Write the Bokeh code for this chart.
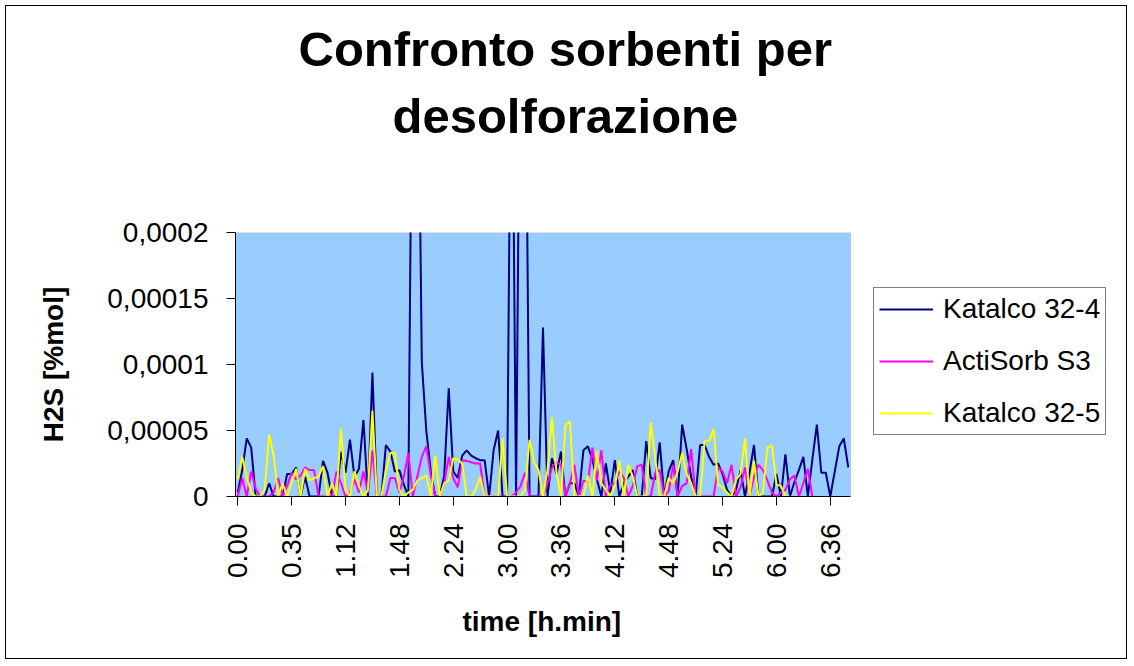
import math
from bokeh.plotting import figure
from bokeh.models import (Range1d, FixedTicker, Legend, LegendItem, Title,
                          ColumnDataSource, BoxAnnotation)
from bokeh.embed import file_html
from bokeh.resources import INLINE

# ---- data ----
series_names = ["Katalco 32-4", "ActiSorb S3", "Katalco 32-5"]

katalco_32_4 = [
    0.3e-5, 2.0e-5, 4.4e-5, 3.7e-5, 0, 0, 0, 1.0e-5, 0, 0,
    0, 1.7e-5, 1.7e-5, 2.2e-5, 0, 1.5e-5, 0, 0, 0, 2.7e-5,
    1.8e-5, 0, 0, 3.4e-5, 1.8e-5, 4.3e-5, 1.5e-5, 2.1e-5, 5.8e-5, 0,
    9.4e-5, 0, 0, 3.9e-5, 3.4e-5, 1.9e-5, 2.0e-5, 0.9e-5, 0, 40e-5,
    40e-5, 10.2e-5, 5.0e-5, 1.9e-5, 0, 0, 1.6e-5, 8.2e-5, 1.9e-5, 1.4e-5,
    3.1e-5, 3.5e-5, 3.1e-5, 2.9e-5, 2.75e-5, 2.75e-5, 0, 3.5e-5, 5.0e-5, 0,
    0, 40e-5, 0, 40e-5, 40e-5, 0, 0, 0, 12.8e-5, 0,
    2.9e-5, 1.7e-5, 3.4e-5, 0, 1.0e-5, 1.0e-5, 0, 3.5e-5, 3.8e-5, 2.8e-5,
    1.3e-5, 0, 2.5e-5, 0.3e-5, 2.75e-5, 0, 1.0e-5, 1.5e-5, 2.0e-5, 0,
    0, 4.2e-5, 1.4e-5, 1.3e-5, 4.1e-5, 0, 1.9e-5, 2.75e-5, 0, 5.45e-5,
    3.6e-5, 1.5e-5, 0, 3.9e-5, 3.9e-5, 3.0e-5, 2.4e-5, 2.5e-5, 1.7e-5, 0.5e-5,
    0, 0.5e-5, 2.0e-5, 0, 1.8e-5, 3.9e-5, 0, 0, 0, 0,
    1.7e-5, 0, 3.2e-5, 0, 1.1e-5, 2.0e-5, 3.0e-5, 0, 2.8e-5, 5.45e-5,
    1.8e-5, 1.8e-5, 0, 1.9e-5, 3.8e-5, 4.4e-5, 2.2e-5,
]

actisorb_s3 = [
    0, 1.4e-5, 0, 1.9e-5, 0.6e-5, 0, 0, 0, 0.3e-5, 1.4e-5,
    0, 0.8e-5, 1.8e-5, 1.3e-5, 1.6e-5, 2.2e-5, 2.0e-5, 2.0e-5, 0, 0,
    0, 0, 1.9e-5, 1.0e-5, 0, 0.3e-5, 1.3e-5, 0.3e-5, 1.9e-5, 0.3e-5,
    3.5e-5, 0, 0, 0, 1.4e-5, 1.4e-5, 0.3e-5, 1.5e-5, 3.3e-5, 0,
    1.5e-5, 3.0e-5, 3.8e-5, 1.6e-5, 0, 0, 1.0e-5, 3.0e-5, 1.4e-5, 0.7e-5,
    2.7e-5, 2.7e-5, 2.6e-5, 2.5e-5, 2.5e-5, 0, 0, 0, 0, 0,
    0, 0, 0.3e-5, 0.8e-5, 1.8e-5, 0, 0, 0, 0, 1.0e-5,
    2.2e-5, 2.6e-5, 2.4e-5, 0, 1.0e-5, 2.4e-5, 0, 1.2e-5, 1.1e-5, 3.7e-5,
    1.2e-5, 3.5e-5, 0, 0.9e-5, 1.0e-5, 1.9e-5, 1.4e-5, 0, 0.8e-5, 2.3e-5,
    2.4e-5, 0, 0, 1.8e-5, 2.0e-5, 0, 0.4e-5, 2.4e-5, 0, 0.8e-5,
    1.0e-5, 3.6e-5, 0, 0, 0, 0, 0, 2.2e-5, 1.9e-5, 1.0e-5,
    2.4e-5, 0, 0.7e-5, 2.2e-5, 0, 1.5e-5, 2.4e-5, 2.0e-5, 1.2e-5, 0.3e-5,
    0, 0.3e-5, 0.5e-5, 1.3e-5, 1.6e-5, 0, 1.0e-5, 2.1e-5, 0,
]

katalco_32_5 = [
    1.3e-5, 3.0e-5, 1.5e-5, 0.3e-5, 0, 0, 0.5e-5, 4.7e-5, 3.1e-5, 0,
    1.0e-5, 0, 1.0e-5, 2.1e-5, 0, 2.1e-5, 1.2e-5, 1.4e-5, 1.5e-5, 2.3e-5,
    0, 1.0e-5, 0, 5.15e-5, 0.5e-5, 0, 1.9e-5, 0.8e-5, 0, 0.5e-5,
    6.5e-5, 0, 0, 2.0e-5, 3.3e-5, 3.3e-5, 0.5e-5, 0, 0.3e-5, 0.5e-5,
    1.2e-5, 1.4e-5, 1.6e-5, 0, 3.1e-5, 0, 1.0e-5, 1.2e-5, 2.9e-5, 2.8e-5,
    2.5e-5, 0, 0, 0.5e-5, 1.5e-5, 0, 0, 0, 0, 4.4e-5,
    0, 0, 0, 0, 0.5e-5, 4.3e-5, 2.6e-5, 2.0e-5, 0, 2.0e-5,
    6.0e-5, 1.8e-5, 0, 5.4e-5, 5.7e-5, 0, 0, 0, 1.6e-5, 0,
    3.4e-5, 1.0e-5, 0.5e-5, 0, 0.8e-5, 2.7e-5, 0, 2.4e-5, 1.5e-5, 0,
    0, 0, 5.6e-5, 2.9e-5, 0, 0, 1.4e-5, 1.0e-5, 1.9e-5, 3.3e-5,
    1.7e-5, 1.0e-5, 0, 0, 4.2e-5, 4.2e-5, 5.1e-5, 0.9e-5, 0.7e-5, 0.3e-5,
    0, 1.3e-5, 1.7e-5, 4.4e-5, 0, 2.7e-5, 0, 0.3e-5, 3.7e-5, 3.9e-5,
    0.9e-5, 0.8e-5, 0, 0,
]

n_categories = 137
x_tick_positions = [0, 12, 24, 36, 48, 60, 72, 84, 96, 108, 120, 132]
x_tick_labels = ["0.00", "0.35", "1.12", "1.48", "2.24", "3.00",
                 "3.36", "4.12", "4.48", "5.24", "6.00", "6.36"]
y_ticks = [0, 0.00005, 0.0001, 0.00015, 0.0002]
y_tick_labels = ["0", "0,00005", "0,0001", "0,00015", "0,0002"]
title_lines = ["Confronto sorbenti per", "desolforazione"]
x_title = "time [h.min]"
y_title = "H2S [%mol]"

colors = ["#000080", "#FF00FF", "#FFFF00"]
FONT = "Liberation Sans"

# layout: the frame extends to the right edge so the legend can sit inside it;
# the blue plot area covers only the categories.
PLOT_AREA_PX = 615
FRAME_PX = 890
x_lo = -0.5
x_hi_area = n_categories - 0.5
x_hi_frame = x_lo + n_categories * FRAME_PX / PLOT_AREA_PX
y_lo, y_hi = y_ticks[0], y_ticks[-1]

p = figure(width=1122, height=654, output_backend="svg", toolbar_location=None,
           x_range=Range1d(x_lo, x_hi_frame), y_range=Range1d(y_lo, y_hi),
           min_border_left=229, min_border_right=1122 - 229 - FRAME_PX,
           min_border_top=226, min_border_bottom=164)
p.styles = {"border": "1px solid black", "margin-left": "5px", "margin-top": "5px"}

p.background_fill_color = "white"
p.border_fill_color = "white"
p.outline_line_color = None
p.xgrid.visible = False
p.ygrid.visible = False

area = BoxAnnotation(left=x_lo, right=x_hi_area, bottom=y_lo, top=y_hi,
                     fill_color="#99CCFF", fill_alpha=1.0,
                     line_color="#808080", line_width=1, level="underlay")
p.add_layout(area)

renderers = []
for name, vals, c in zip(series_names, [katalco_32_4, actisorb_s3, katalco_32_5], colors):
    src = ColumnDataSource(dict(x=list(range(len(vals))), y=vals))
    r = p.line("x", "y", source=src, line_color=c, line_width=2)
    renderers.append(r)

# axes
for ax in (p.xaxis[0], p.yaxis[0]):
    ax.axis_line_color = "black"
    ax.axis_line_width = 1
    ax.major_tick_line_color = "black"
    ax.major_tick_out = 9
    ax.major_tick_in = 0
    ax.minor_tick_line_color = None
    ax.major_label_text_font = FONT
    ax.major_label_text_font_size = "28px"
    ax.major_label_text_color = "black"
    ax.axis_label_text_font = FONT
    ax.axis_label_text_font_size = "28px"
    ax.axis_label_text_font_style = "bold"
    ax.axis_label_text_color = "black"

p.xaxis.bounds = (x_lo, x_hi_area)
p.xaxis.ticker = FixedTicker(ticks=x_tick_positions, minor_ticks=[])
p.xaxis.major_label_overrides = dict(zip(x_tick_positions, x_tick_labels))
p.xaxis.major_label_orientation = math.pi / 2
p.xaxis.major_label_standoff = 18

# x-axis title, centred under the blue plot area
p.add_layout(Title(text=x_title, align="left", offset=227, text_font=FONT,
                   text_font_size="28px", text_font_style="bold",
                   text_color="black", standoff=46), "below")

p.yaxis.ticker = FixedTicker(ticks=y_ticks, minor_ticks=[])
p.yaxis.major_label_overrides = dict(zip(y_ticks, y_tick_labels))
p.yaxis.major_label_standoff = 18
p.yaxis.axis_label = y_title
p.yaxis.axis_label_standoff = 35

# title: spacer panel next to the frame, then the two title lines
p.add_layout(Title(text=" ", text_font_size="10px", standoff=71), "above")
p.add_layout(Title(text=title_lines[1], align="left", offset=157, text_font=FONT,
                   text_font_size="49px", text_font_style="bold",
                   text_color="black", standoff=11), "above")
p.add_layout(Title(text=title_lines[0], align="left", offset=63, text_font=FONT,
                   text_font_size="49px", text_font_style="bold",
                   text_color="black", standoff=11), "above")

legend = Legend(items=[LegendItem(label=n, renderers=[r]) for n, r in zip(series_names, renderers)],
                location=(638, 61), orientation="vertical",
                border_line_color="black", border_line_width=1,
                background_fill_color="white", background_fill_alpha=1.0,
                label_text_font=FONT, label_text_font_size="28px", label_text_color="black",
                glyph_width=54, glyph_height=20, label_standoff=10,
                padding=5, spacing=20, margin=0)
p.add_layout(legend, "center")

open("out.html", "w").write(file_html(p, INLINE))
